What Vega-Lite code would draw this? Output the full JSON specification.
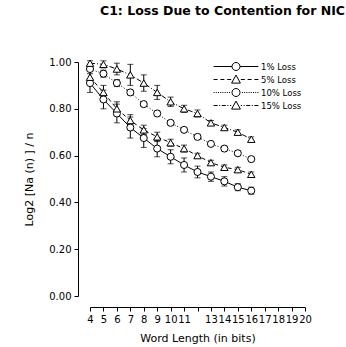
{
  "$schema": "https://vega.github.io/schema/vega-lite/v6.json",
  "autosize": {"type": "none"},
  "width": 215,
  "height": 234,
  "padding": {"left": 90, "top": 62, "right": 41, "bottom": 51},
  "background": "white",
  "config": {
    "view": {"stroke": null},
    "font": "DejaVu Sans",
    "axis": {"grid": false, "domainColor": "black", "tickColor": "black", "labelColor": "black", "titleColor": "black", "labelFont": "DejaVu Sans", "titleFont": "DejaVu Sans", "titleFontWeight": "normal"}
  },
  "title": {
    "text": "C1: Loss Due to Contention for NIC",
    "anchor": "start",
    "frame": "group",
    "dx": 10,
    "offset": 40,
    "fontSize": 12.5,
    "fontWeight": "bold",
    "font": "DejaVu Sans",
    "color": "black"
  },
  "data": {
    "values": [
      {"s": "1% Loss", "n": 4, "y": 0.91, "lo": 0.87, "hi": 0.95},
      {"s": "1% Loss", "n": 5, "y": 0.84, "lo": 0.80, "hi": 0.88},
      {"s": "1% Loss", "n": 6, "y": 0.78, "lo": 0.74, "hi": 0.82},
      {"s": "1% Loss", "n": 7, "y": 0.72, "lo": 0.675, "hi": 0.765},
      {"s": "1% Loss", "n": 8, "y": 0.675, "lo": 0.635, "hi": 0.715},
      {"s": "1% Loss", "n": 9, "y": 0.63, "lo": 0.595, "hi": 0.665},
      {"s": "1% Loss", "n": 10, "y": 0.595, "lo": 0.565, "hi": 0.625},
      {"s": "1% Loss", "n": 11, "y": 0.56, "lo": 0.53, "hi": 0.59},
      {"s": "1% Loss", "n": 12, "y": 0.53, "lo": 0.505, "hi": 0.555},
      {"s": "1% Loss", "n": 13, "y": 0.51, "lo": 0.49, "hi": 0.53},
      {"s": "1% Loss", "n": 14, "y": 0.49, "lo": 0.47, "hi": 0.51},
      {"s": "1% Loss", "n": 15, "y": 0.465, "lo": 0.45, "hi": 0.48},
      {"s": "1% Loss", "n": 16, "y": 0.45, "lo": 0.435, "hi": 0.465},
      {"s": "5% Loss", "n": 4, "y": 0.935, "lo": 0.905, "hi": 0.965},
      {"s": "5% Loss", "n": 5, "y": 0.87, "lo": 0.84, "hi": 0.90},
      {"s": "5% Loss", "n": 6, "y": 0.80, "lo": 0.77, "hi": 0.83},
      {"s": "5% Loss", "n": 7, "y": 0.75, "lo": 0.725, "hi": 0.775},
      {"s": "5% Loss", "n": 8, "y": 0.71, "lo": 0.69, "hi": 0.73},
      {"s": "5% Loss", "n": 9, "y": 0.68, "lo": 0.66, "hi": 0.70},
      {"s": "5% Loss", "n": 10, "y": 0.655, "lo": 0.64, "hi": 0.67},
      {"s": "5% Loss", "n": 11, "y": 0.63, "lo": 0.615, "hi": 0.645},
      {"s": "5% Loss", "n": 12, "y": 0.60, "lo": 0.59, "hi": 0.61},
      {"s": "5% Loss", "n": 13, "y": 0.57, "lo": 0.56, "hi": 0.58},
      {"s": "5% Loss", "n": 14, "y": 0.55, "lo": 0.54, "hi": 0.56},
      {"s": "5% Loss", "n": 15, "y": 0.54, "lo": 0.53, "hi": 0.55},
      {"s": "5% Loss", "n": 16, "y": 0.52, "lo": 0.51, "hi": 0.53},
      {"s": "10% Loss", "n": 4, "y": 0.97, "lo": 0.96, "hi": 0.98},
      {"s": "10% Loss", "n": 5, "y": 0.95, "lo": 0.935, "hi": 0.965},
      {"s": "10% Loss", "n": 6, "y": 0.91, "lo": 0.895, "hi": 0.925},
      {"s": "10% Loss", "n": 7, "y": 0.87, "lo": 0.86, "hi": 0.88},
      {"s": "10% Loss", "n": 8, "y": 0.82, "lo": 0.81, "hi": 0.83},
      {"s": "10% Loss", "n": 9, "y": 0.78, "lo": 0.77, "hi": 0.79},
      {"s": "10% Loss", "n": 10, "y": 0.74, "lo": 0.73, "hi": 0.75},
      {"s": "10% Loss", "n": 11, "y": 0.71, "lo": 0.70, "hi": 0.72},
      {"s": "10% Loss", "n": 12, "y": 0.68, "lo": 0.67, "hi": 0.69},
      {"s": "10% Loss", "n": 13, "y": 0.65, "lo": 0.64, "hi": 0.66},
      {"s": "10% Loss", "n": 14, "y": 0.63, "lo": 0.62, "hi": 0.64},
      {"s": "10% Loss", "n": 15, "y": 0.61, "lo": 0.60, "hi": 0.62},
      {"s": "10% Loss", "n": 16, "y": 0.585, "lo": 0.575, "hi": 0.595},
      {"s": "15% Loss", "n": 4, "y": 0.995, "lo": 0.985, "hi": 1.005},
      {"s": "15% Loss", "n": 5, "y": 0.99, "lo": 0.975, "hi": 1.005},
      {"s": "15% Loss", "n": 6, "y": 0.97, "lo": 0.945, "hi": 0.995},
      {"s": "15% Loss", "n": 7, "y": 0.945, "lo": 0.90, "hi": 0.99},
      {"s": "15% Loss", "n": 8, "y": 0.91, "lo": 0.875, "hi": 0.945},
      {"s": "15% Loss", "n": 9, "y": 0.87, "lo": 0.84, "hi": 0.90},
      {"s": "15% Loss", "n": 10, "y": 0.83, "lo": 0.81, "hi": 0.85},
      {"s": "15% Loss", "n": 11, "y": 0.80, "lo": 0.785, "hi": 0.815},
      {"s": "15% Loss", "n": 12, "y": 0.78, "lo": 0.765, "hi": 0.795},
      {"s": "15% Loss", "n": 13, "y": 0.74, "lo": 0.73, "hi": 0.75},
      {"s": "15% Loss", "n": 14, "y": 0.72, "lo": 0.71, "hi": 0.73},
      {"s": "15% Loss", "n": 15, "y": 0.70, "lo": 0.69, "hi": 0.71},
      {"s": "15% Loss", "n": 16, "y": 0.67, "lo": 0.66, "hi": 0.68}
    ]
  },
  "encoding": {
    "x": {
      "field": "n", "type": "quantitative",
      "scale": {"domain": [4, 20], "nice": false, "zero": false},
      "axis": {
        "title": "Word Length (in bits)", "titleFontSize": 11, "titlePadding": 8,
        "values": [4,5,6,7,8,9,10,11,12,13,14,15,16,17,18,19,20],
        "labelExpr": "datum.value == 12 ? '' : datum.label",
        "labelFontSize": 10, "labelOverlap": false, "labelPadding": 3,
        "tickSize": 4, "offset": 11, "labelFlush": false
      }
    },
    "y": {
      "field": "y", "type": "quantitative",
      "scale": {"domain": [0, 1], "nice": false},
      "axis": {
        "title": "Log2 [Na (n) ] / n", "titleFontSize": 11, "titlePadding": 14,
        "values": [0, 0.2, 0.4, 0.6, 0.8, 1.0], "format": ".2f",
        "labelFontSize": 10, "labelPadding": 3, "tickSize": 4, "offset": 12
      }
    }
  },
  "layer": [
    {
      "transform": [{"filter": "datum.s == '1% Loss'"}],
      "mark": {"type": "line", "color": "black", "strokeWidth": 1}
    },
    {
      "transform": [{"filter": "datum.s == '5% Loss'"}],
      "mark": {"type": "line", "color": "black", "strokeWidth": 1, "strokeDash": [4, 3]}
    },
    {
      "transform": [{"filter": "datum.s == '10% Loss'"}],
      "mark": {"type": "line", "color": "black", "strokeWidth": 1, "strokeDash": [1, 2]}
    },
    {
      "transform": [{"filter": "datum.s == '15% Loss'"}],
      "mark": {"type": "line", "color": "black", "strokeWidth": 1, "strokeDash": [5, 2, 1, 2]}
    },
    {
      "mark": {"type": "rule", "color": "black", "strokeWidth": 1},
      "encoding": {"y": {"field": "lo", "type": "quantitative"}, "y2": {"field": "hi"}}
    },
    {
      "mark": {"type": "tick", "orient": "horizontal", "color": "black", "size": 6, "thickness": 1},
      "encoding": {"y": {"field": "lo", "type": "quantitative"}}
    },
    {
      "mark": {"type": "tick", "orient": "horizontal", "color": "black", "size": 6, "thickness": 1},
      "encoding": {"y": {"field": "hi", "type": "quantitative"}}
    },
    {
      "transform": [{"filter": "datum.s == '1% Loss' || datum.s == '10% Loss'"}],
      "mark": {"type": "point", "shape": "circle", "filled": true, "fill": "white", "stroke": "black", "strokeWidth": 1, "size": 50, "opacity": 1}
    },
    {
      "transform": [{"filter": "datum.s == '5% Loss' || datum.s == '15% Loss'"}],
      "mark": {"type": "point", "shape": "triangle-up", "filled": true, "fill": "white", "stroke": "black", "strokeWidth": 1, "size": 55, "opacity": 1}
    },
    {
      "mark": {"type": "point", "opacity": 0, "size": 64},
      "encoding": {
        "shape": {
          "field": "s", "type": "nominal",
          "scale": {
            "domain": ["1% Loss", "5% Loss", "10% Loss", "15% Loss"],
            "range": [
              "M-5.6,0H-1M1,0H5.6M1,0A1,1 0 1,1 -1,0A1,1 0 1,1 1,0Z",
              "M-5.6,0H-4.6M-3.9,0H-2.9M-2.2,0H-1.2M1.2,0H2.2M2.9,0H3.9M4.6,0H5.6M0,-1.1L1.1,0.9L-1.1,0.9Z",
              "M-5.6,0h0.25M-5.05,0h0.25M-4.5,0h0.25M-3.95,0h0.25M-3.4,0h0.25M-2.85,0h0.25M-2.3,0h0.25M-1.75,0h0.25M1.5,0h0.25M2.05,0h0.25M2.6,0h0.25M3.15,0h0.25M3.7,0h0.25M4.25,0h0.25M4.8,0h0.25M5.35,0h0.25M1,0A1,1 0 1,1 -1,0A1,1 0 1,1 1,0Z",
              "M-5.6,0H-4.6M-4.2,0h0.25M-3.55,0H-2.55M-2.15,0h0.25M-1.5,0H-1.2M1.2,0H1.5M1.9,0h0.25M2.55,0H3.55M3.95,0h0.25M4.6,0H5.6M0,-1.1L1.1,0.9L-1.1,0.9Z"
            ]
          },
          "legend": {
            "title": null,
            "orient": "none",
            "legendX": 141.5,
            "legendY": 0,
            "padding": 0,
            "rowPadding": 0,
            "symbolSize": 64,
            "symbolOpacity": 1,
            "symbolFillColor": "white",
            "symbolStrokeColor": "black",
            "symbolStrokeWidth": 1,
            "labelOffset": 20.5,
            "labelFontSize": 8.5,
            "labelFont": "DejaVu Sans",
            "labelColor": "black",
            "labelLimit": 100
          }
        }
      }
    }
  ]
}
